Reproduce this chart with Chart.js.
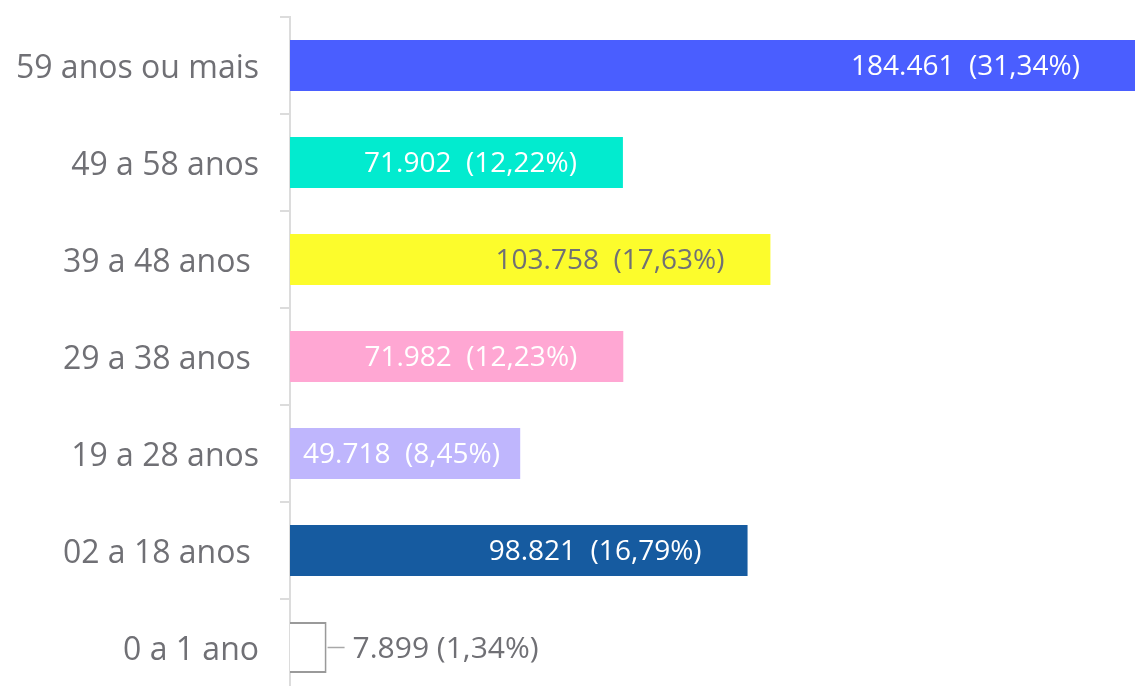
<!DOCTYPE html>
<html lang="pt-BR">
<head>
<meta charset="utf-8">
<title>Faixa etária</title>
<script src="https://cdn.jsdelivr.net/npm/chart.js@4.4.1/dist/chart.umd.min.js"></script>
<style>
  html, body { margin: 0; padding: 0; background: #fff; overflow: hidden; }
  #wrap { width: 1135px; height: 696px; }
</style>
</head>
<body>
<div id="wrap"><canvas id="ageBar" width="1135" height="696"></canvas></div>
<script>
  const categories = ['59 anos ou mais', '49 a 58 anos', '39 a 48 anos ', '29 a 38 anos ', '19 a 28 anos', '02 a 18 anos ', '0 a 1 ano'];
  const values = [184461, 71902, 103758, 71982, 49718, 98821, 7899];
  const percents = ['31,34', '12,22', '17,63', '12,23', '8,45', '16,79', '1,34'];

  const barColors = ['#4a5eff', '#02ebcf', '#fcfc2c', '#ffa7d3', '#bfb6fd', '#165ba0', '#ffffff'];
  const borderColors = ['#4a5eff', '#02ebcf', '#fcfc2c', '#ffa7d3', '#bfb6fd', '#165ba0', '#9a9a9a'];
  const borderWidths = [0, 0, 0, 0, 0, 0, 2];
  const labelColors = ['#ffffff', '#ffffff', '#707075', '#ffffff', '#ffffff', '#ffffff', '#707075'];

  const fmtNum = (n) => String(n).replace(/\B(?=(\d{3})+(?!\d))/g, '.');

  // value labels: inside the bar near its end, or outside with a short leader when too narrow
  const valueLabels = {
    id: 'valueLabels',
    afterDatasetsDraw(chart) {
      const { ctx, chartArea } = chart;
      const meta = chart.getDatasetMeta(0);
      ctx.save();
      ctx.textBaseline = 'middle';
      meta.data.forEach((bar, i) => {
        const end = Math.min(bar.x, chartArea.right);
        const clipped = bar.x > chartArea.right;
        const inside = fmtNum(values[i]) + '  (' + percents[i] + '%)';
        ctx.font = '28px "Open Sans", sans-serif';
        const w = ctx.measureText(inside).width;
        const y = bar.y + 2;
        if (w + 10 <= end - bar.base) {
          let right = end - (clipped ? 55 : 46);
          if (right - w < bar.base + 13) right = bar.base + 13 + w;
          ctx.fillStyle = labelColors[i];
          ctx.textAlign = 'right';
          ctx.fillText(inside, right, y);
        } else {
          const txt = fmtNum(values[i]) + ' (' + percents[i] + '%)';
          ctx.font = '30px "Open Sans", sans-serif';
          ctx.strokeStyle = '#a8a8a8';
          ctx.lineWidth = 1.5;
          ctx.beginPath();
          ctx.moveTo(end + 1, bar.y);
          ctx.lineTo(end + 18, bar.y);
          ctx.stroke();
          ctx.fillStyle = labelColors[i];
          ctx.textAlign = 'left';
          ctx.fillText(txt, end + 26, y);
        }
      });
      ctx.restore();
    }
  };

  document.addEventListener('DOMContentLoaded', () => {
    new Chart(document.getElementById('ageBar'), {
      type: 'bar',
      data: {
        labels: categories,
        datasets: [{
          data: values,
          backgroundColor: barColors,
          borderColor: borderColors,
          borderWidth: borderWidths,
          borderSkipped: 'start',
          barPercentage: 0.525,
          categoryPercentage: 1
        }]
      },
      options: {
        indexAxis: 'y',
        responsive: false,
        animation: false,
        devicePixelRatio: 1,
        layout: { padding: { top: 17, right: 0, bottom: 0, left: 0 } },
        plugins: { legend: { display: false }, tooltip: { enabled: false } },
        scales: {
          x: { display: false, min: 0, max: 182500 },
          y: {
            afterFit: (s) => { s.width = 290; s.paddingTop = 0; s.paddingBottom = 0; },
            border: { display: true, color: '#dcdcdc', width: 2 },
            grid: { drawOnChartArea: false, drawTicks: true, tickLength: 10, color: '#dcdcdc', lineWidth: 2 },
            ticks: { padding: 21, labelOffset: 3, color: '#707075', font: { family: 'Open Sans', size: 32 } }
          }
        }
      },
      plugins: [valueLabels]
    });
  });
</script>
</body>
</html>
